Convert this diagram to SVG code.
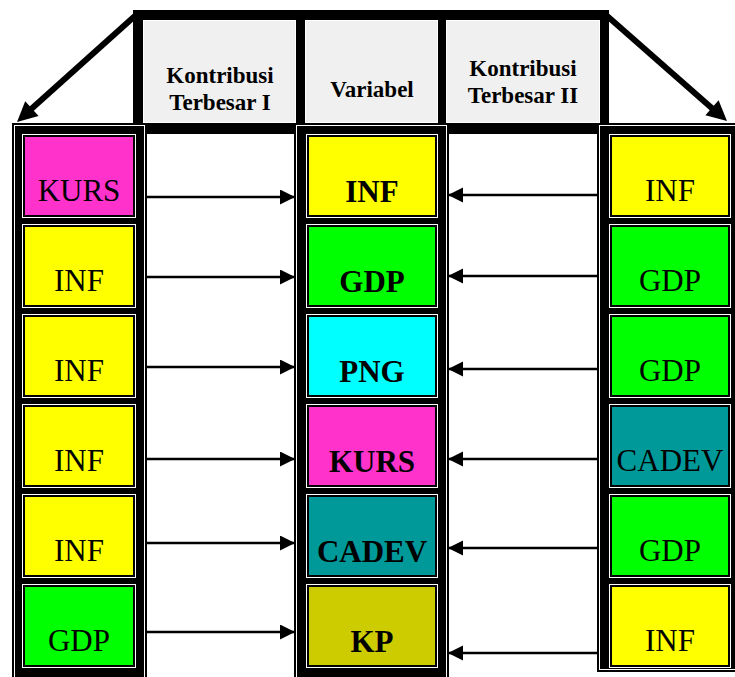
<svg xmlns="http://www.w3.org/2000/svg" width="735" height="677" viewBox="0 0 735 677">
<style>
.frame{fill:#000}
.inl{fill:none;stroke:#fff;stroke-width:1}
.hcell{fill:#f0f0f0;stroke:#fff;stroke-width:1}
.cellout{fill:none;stroke:#fff;stroke-width:1}
text{font-family:"Liberation Serif","Times New Roman",serif;fill:#000;text-anchor:middle}
.ht{font-weight:bold;font-size:23px}
.lt{font-size:31px}
.mt{font-weight:bold;font-size:31px}
.conn{stroke:#000;stroke-width:2.5;fill:none}
.diag{stroke:#000;stroke-width:6;fill:none}
.y{fill:#ffff00}.g{fill:#00ff00}.m{fill:#ff33cc}.c{fill:#00ffff}.t{fill:#009999}.o{fill:#cccc00}
</style>
<defs>
<marker id="ah" markerUnits="userSpaceOnUse" markerWidth="16" markerHeight="16" refX="15" refY="7.5" orient="auto">
<path d="M0,0 L15,7.5 L0,15 z" fill="#000"/>
</marker>
</defs>
<rect width="735" height="677" fill="#fff"/>

<!-- header -->
<g id="header">
<rect class="frame" x="133" y="10" width="476" height="124"/>
<g id="h1"><rect class="hcell" x="143.5" y="20.5" width="152" height="102"/>
<text class="ht" x="220" y="83">Kontribusi</text><text class="ht" x="220" y="110">Terbesar I</text></g>
<g id="h2"><rect class="hcell" x="305.5" y="20.5" width="132" height="102"/>
<text class="ht" x="372" y="97">Variabel</text></g>
<g id="h3"><rect class="hcell" x="446.5" y="20.5" width="153" height="102"/>
<text class="ht" x="523" y="76">Kontribusi</text><text class="ht" x="523" y="103">Terbesar II</text></g>
</g>

<!-- column frames -->
<rect class="frame" x="12" y="123" width="135" height="554"/>
<rect class="inl" x="14.5" y="125.5" width="130" height="560"/>
<rect class="frame" x="294" y="123" width="155" height="554"/>
<rect class="inl" x="296.5" y="125.5" width="150" height="560"/>
<rect class="frame" x="597" y="123" width="140" height="549"/>
<rect class="inl" x="599.5" y="125.5" width="140" height="544"/>

<!-- left column -->
<g id="L1"><rect class="cellout" x="22.5" y="134.5" width="113" height="83"/><rect class="m" x="25" y="137" width="108" height="78"/><text class="lt" x="79" y="201">KURS</text></g>
<g id="L2"><rect class="cellout" x="22.5" y="224.5" width="113" height="83"/><rect class="y" x="25" y="227" width="108" height="78"/><text class="lt" x="79" y="291">INF</text></g>
<g id="L3"><rect class="cellout" x="22.5" y="314.5" width="113" height="83"/><rect class="y" x="25" y="317" width="108" height="78"/><text class="lt" x="79" y="381">INF</text></g>
<g id="L4"><rect class="cellout" x="22.5" y="404.5" width="113" height="83"/><rect class="y" x="25" y="407" width="108" height="78"/><text class="lt" x="79" y="471">INF</text></g>
<g id="L5"><rect class="cellout" x="22.5" y="494.5" width="113" height="83"/><rect class="y" x="25" y="497" width="108" height="78"/><text class="lt" x="79" y="561">INF</text></g>
<g id="L6"><rect class="cellout" x="22.5" y="584.5" width="113" height="83"/><rect class="g" x="25" y="587" width="108" height="78"/><text class="lt" x="79" y="651">GDP</text></g>

<!-- middle column -->
<g id="M1"><rect class="cellout" x="306.5" y="134.5" width="131" height="83"/><rect class="y" x="309" y="137" width="126" height="78"/><text class="mt" x="372" y="202">INF</text></g>
<g id="M2"><rect class="cellout" x="306.5" y="224.5" width="131" height="83"/><rect class="g" x="309" y="227" width="126" height="78"/><text class="mt" x="372" y="292">GDP</text></g>
<g id="M3"><rect class="cellout" x="306.5" y="314.5" width="131" height="83"/><rect class="c" x="309" y="317" width="126" height="78"/><text class="mt" x="372" y="382">PNG</text></g>
<g id="M4"><rect class="cellout" x="306.5" y="404.5" width="131" height="83"/><rect class="m" x="309" y="407" width="126" height="78"/><text class="mt" x="372" y="472">KURS</text></g>
<g id="M5"><rect class="cellout" x="306.5" y="494.5" width="131" height="83"/><rect class="t" x="309" y="497" width="126" height="78"/><text class="mt" x="372" y="562">CADEV</text></g>
<g id="M6"><rect class="cellout" x="306.5" y="584.5" width="131" height="83"/><rect class="o" x="309" y="587" width="126" height="78"/><text class="mt" x="372" y="652">KP</text></g>

<!-- right column -->
<g id="R1"><rect class="cellout" x="609.5" y="134.5" width="121" height="83"/><rect class="y" x="612" y="137" width="116" height="78"/><text class="lt" x="670" y="201">INF</text></g>
<g id="R2"><rect class="cellout" x="609.5" y="224.5" width="121" height="83"/><rect class="g" x="612" y="227" width="116" height="78"/><text class="lt" x="670" y="291">GDP</text></g>
<g id="R3"><rect class="cellout" x="609.5" y="314.5" width="121" height="83"/><rect class="g" x="612" y="317" width="116" height="78"/><text class="lt" x="670" y="381">GDP</text></g>
<g id="R4"><rect class="cellout" x="609.5" y="404.5" width="121" height="83"/><rect class="t" x="612" y="407" width="116" height="78"/><text class="lt" x="670" y="471">CADEV</text></g>
<g id="R5"><rect class="cellout" x="609.5" y="494.5" width="121" height="83"/><rect class="g" x="612" y="497" width="116" height="78"/><text class="lt" x="670" y="561">GDP</text></g>
<g id="R6"><rect class="cellout" x="609.5" y="584.5" width="121" height="83"/><rect class="y" x="612" y="587" width="116" height="78"/><text class="lt" x="670" y="651">INF</text></g>

<!-- connectors -->
<g id="connectors">
<line class="conn" x1="147" y1="197" x2="295" y2="197" marker-end="url(#ah)"/>
<line class="conn" x1="147" y1="277" x2="295" y2="277" marker-end="url(#ah)"/>
<line class="conn" x1="147" y1="367" x2="295" y2="367" marker-end="url(#ah)"/>
<line class="conn" x1="147" y1="459" x2="295" y2="459" marker-end="url(#ah)"/>
<line class="conn" x1="147" y1="543" x2="295" y2="543" marker-end="url(#ah)"/>
<line class="conn" x1="147" y1="632" x2="295" y2="632" marker-end="url(#ah)"/>
<line class="conn" x1="597" y1="195" x2="448" y2="195" marker-end="url(#ah)"/>
<line class="conn" x1="597" y1="276" x2="448" y2="276" marker-end="url(#ah)"/>
<line class="conn" x1="597" y1="369" x2="448" y2="369" marker-end="url(#ah)"/>
<line class="conn" x1="597" y1="459" x2="448" y2="459" marker-end="url(#ah)"/>
<line class="conn" x1="597" y1="548" x2="448" y2="548" marker-end="url(#ah)"/>
<line class="conn" x1="597" y1="653" x2="448" y2="653" marker-end="url(#ah)"/>
<line class="diag" x1="136" y1="15" x2="29" y2="111"/>
<polygon points="17,122 38.6,116.1 25.2,101.2" fill="#000"/>
<line class="diag" x1="606" y1="15" x2="714" y2="110"/>
<polygon points="727,121 705.4,115.3 718.6,100.3" fill="#000"/>
</g>
</svg>
